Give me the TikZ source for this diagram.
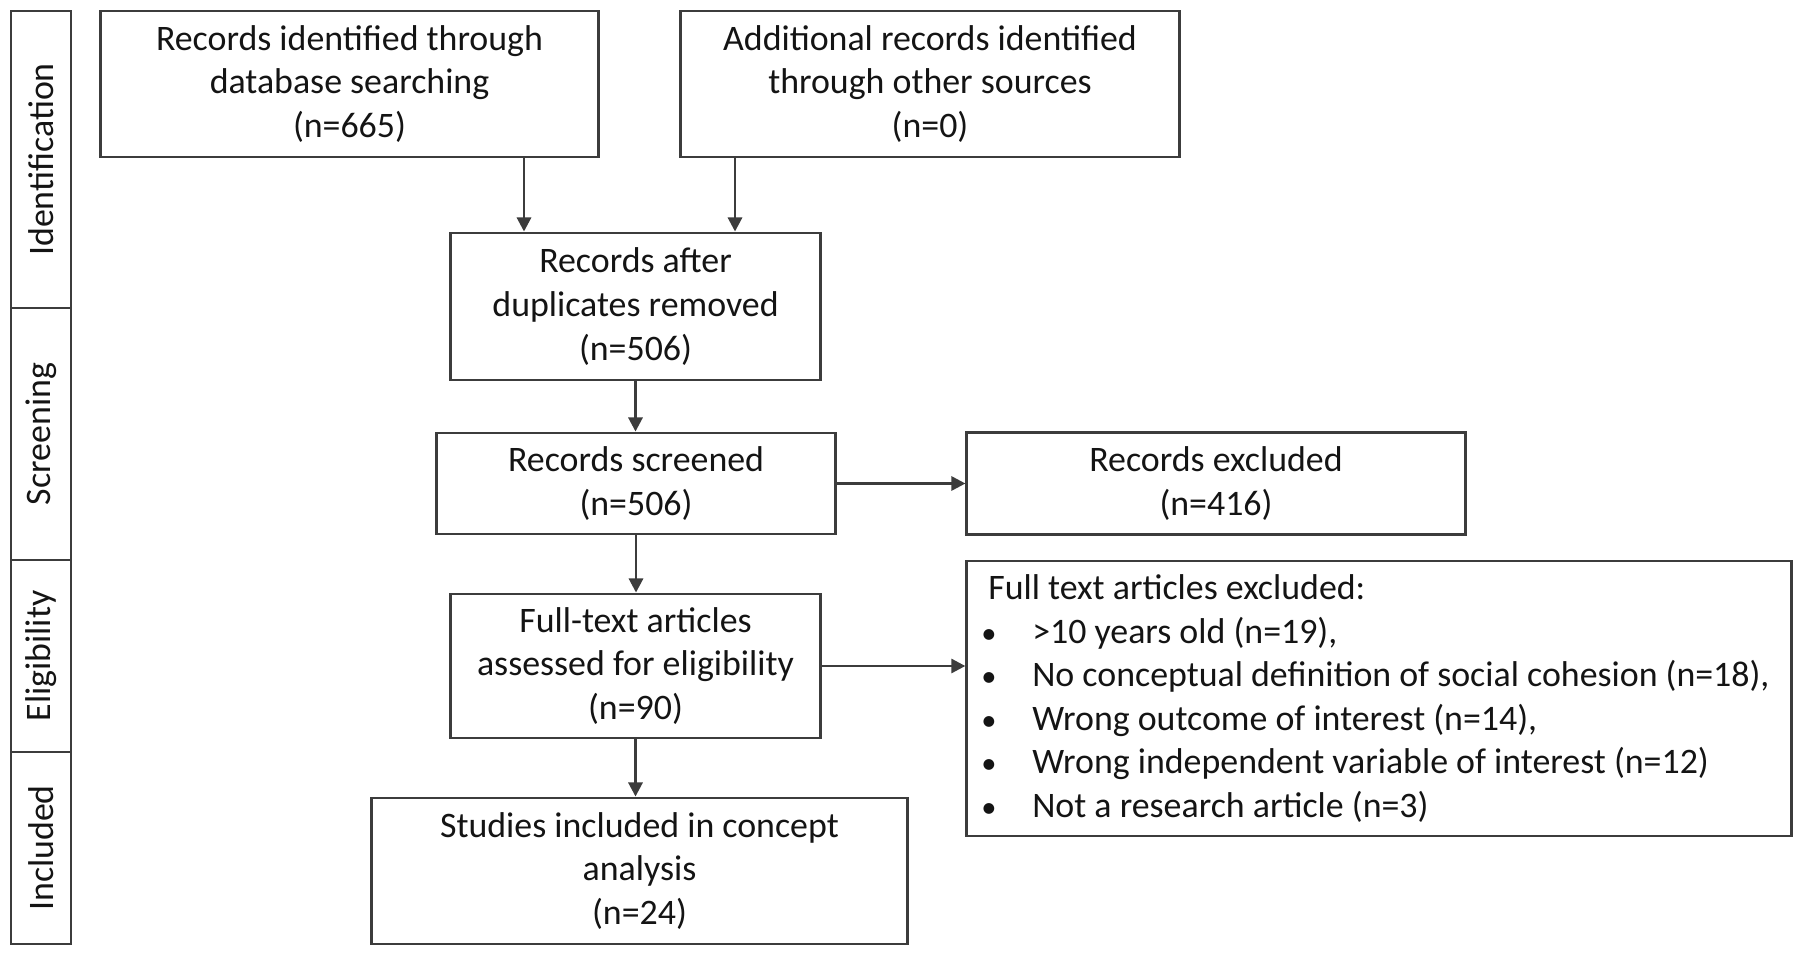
\documentclass[tikz,border=0pt]{standalone}
\usepackage{fontspec}
\setmainfont{Carlito}
\usepackage{tikz}
\usetikzlibrary{arrows.meta, positioning}
\definecolor{flowLine}{HTML}{3C3C3C}
\definecolor{flowText}{HTML}{141414}
\newcommand{\exclitem}{\makebox[12.5pt][l]{\hspace{-2pt}\scalebox{0.85}{•}}}
\tikzset{
	% boxes of the flow chart
	flowbox/.style={draw=flowLine, line width=0.8pt, align=center, inner sep=0pt,
		text=flowText, font=\fontsize{10.2}{12.4}\selectfont},
	% phase labels on the left
	stagebox/.style={draw=flowLine, line width=0.8pt, rotate=90, inner sep=0pt,
		minimum height=0.6cm, text=flowText, font=\fontsize{10.2}{12.4}\selectfont},
	flowarrow/.style={draw=flowLine, line width=0.8pt, -{Triangle[length=4pt, width=4pt]}}
}

\begin{document}
\begin{tikzpicture}[x=0.01cm, y=-0.01cm]
	\useasboundingbox (0,0) rectangle (1800,958);
	% phases
	\node[stagebox, minimum width=2.97cm] (ident) at (41,159.5) {Identification};
	\node[stagebox, minimum width=2.52cm] (screen) at (41,434) {Screening};
	\node[stagebox, minimum width=1.92cm] (elig) at (41,656) {Eligibility};
	\node[stagebox, minimum width=1.92cm] (incl) at (41,848) {Included};
	% records
	\node[flowbox, minimum width=4.97cm, minimum height=1.46cm] (database) at (349.5,84)
		{Records identified through\\database searching\\(n=665)};
	\node[flowbox, minimum width=4.98cm, minimum height=1.46cm] (other) at (930,84)
		{Additional records identified\\through other sources\\(n=0)};
	\node[flowbox, minimum width=3.69cm, minimum height=1.47cm] (dupl) at (635.5,306.5)
		{Records after\\duplicates removed\\(n=506)};
	\node[flowbox, minimum width=3.98cm, minimum height=1.01cm] (screened) at (636,483.5)
		{Records screened\\(n=506)};
	\node[flowbox, minimum width=4.98cm, minimum height=1.02cm] (excluded) at (1216,483.5)
		{Records excluded\\(n=416)};
	\node[flowbox, minimum width=3.69cm, minimum height=1.44cm] (fulltext) at (635.5,666)
		{Full-text articles\\assessed for eligibility\\(n=90)};
	\node[flowbox, minimum width=8.24cm, minimum height=2.75cm, align=left] (ftexcl) at (1379,698.5)
		{Full text articles excluded:\\
		\exclitem>10 years old (n=19),\\
		\exclitem No conceptual definition of social cohesion (n=18),\\
		\exclitem Wrong outcome of interest (n=14),\\
		\exclitem Wrong independent variable of interest (n=12)\\
		\exclitem Not a research article (n=3)};
	\node[flowbox, minimum width=5.35cm, minimum height=1.46cm] (included) at (639.5,871)
		{Studies included in concept\\analysis\\(n=24)};
	% arrows
	\draw[flowarrow] (database.south -| 524,0) -- (dupl.north -| 524,0);
	\draw[flowarrow] (other.south -| 735,0) -- (dupl.north -| 735,0);
	\draw[flowarrow] (dupl.south) -- (dupl.south |- screened.north);
	\draw[flowarrow] (screened.east) -- (screened.east -| excluded.west);
	\draw[flowarrow] (screened.south) -- (screened.south |- fulltext.north);
	\draw[flowarrow] (fulltext.east) -- (fulltext.east -| ftexcl.west);
	\draw[flowarrow] (fulltext.south) -- (fulltext.south |- included.north);
\end{tikzpicture}
\end{document}
